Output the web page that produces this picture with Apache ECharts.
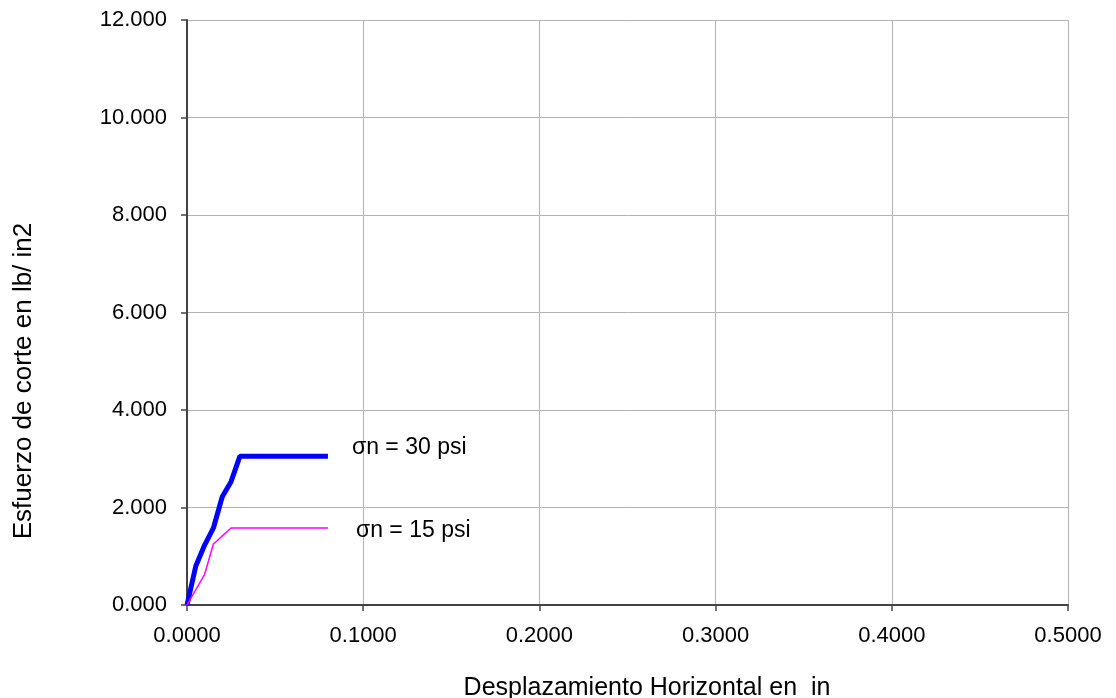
<!DOCTYPE html>
<html><head><meta charset="utf-8">
<script src="https://cdn.jsdelivr.net/npm/echarts@6/dist/echarts.min.js"></script>
<style>html,body{margin:0;padding:0;background:#fff}#c{width:1116px;height:698px}</style>
</head><body><div id="c"></div>
<script>
const xTitle = 'Desplazamiento Horizontal en  in';
const yTitle = 'Esfuerzo de corte en lb/ in2';
const s30Name = 'σn = 30 psi';
const s30X = [0, 0.005, 0.01, 0.015, 0.02, 0.025, 0.03, 0.08];
const s30Y = [0, 0.80, 1.23, 1.58, 2.22, 2.53, 3.05, 3.05];
const s15Name = 'σn = 15 psi';
const s15X = [0, 0.01, 0.015, 0.025, 0.08];
const s15Y = [0, 0.63, 1.25, 1.58, 1.58];

const font = '"Liberation Sans", Arial, sans-serif';
const chart = echarts.init(document.getElementById('c'));
function pts(xs, ys){ return xs.map((x,i)=>[x, ys[i]]); }
chart.setOption({
  animation:false,
  grid:{left:187, right:48, top:20, bottom:93},
  xAxis:{type:'value', min:0, max:0.5, interval:0.1,
    axisLine:{show:true, lineStyle:{color:'#444', width:2}},
    axisTick:{show:true, length:6, lineStyle:{color:'#444', width:1.5}},
    axisLabel:{fontFamily:font, fontSize:22, color:'#000', margin:20, formatter:v=>v.toFixed(4)},
    splitLine:{show:true, lineStyle:{color:'#b4b4b4', width:1}}},
  yAxis:{type:'value', min:0, max:12, interval:2,
    axisLine:{show:true, lineStyle:{color:'#444', width:2}},
    axisTick:{show:true, length:6, lineStyle:{color:'#444', width:1.5}},
    axisLabel:{fontFamily:font, fontSize:22, color:'#000', margin:20, formatter:v=>v.toFixed(3)},
    splitLine:{show:true, lineStyle:{color:'#b4b4b4', width:1}}},
  graphic:[
    {type:'text', x:647, y:688, style:{text:xTitle, fontFamily:font, fontSize:25, fill:'#000', textAlign:'center', textVerticalAlign:'middle'}},
    {type:'text', x:24, y:381, rotation:Math.PI/2, style:{text:yTitle, fontFamily:font, fontSize:26, fill:'#000', textAlign:'center', textVerticalAlign:'middle'}}
  ],
  series:[
    {type:'line', name:s30Name, data:pts(s30X,s30Y), symbol:'none',
     lineStyle:{color:'#0000ff', width:5},
     endLabel:{show:true, formatter:s30Name, fontFamily:font, fontSize:23, color:'#000', offset:[16,-9]}},
    {type:'line', name:s15Name, data:pts(s15X,s15Y), symbol:'none',
     lineStyle:{color:'#ff00ff', width:1.5},
     endLabel:{show:true, formatter:s15Name, fontFamily:font, fontSize:23, color:'#000', offset:[20,3]}}
  ]
});
</script></body></html>
